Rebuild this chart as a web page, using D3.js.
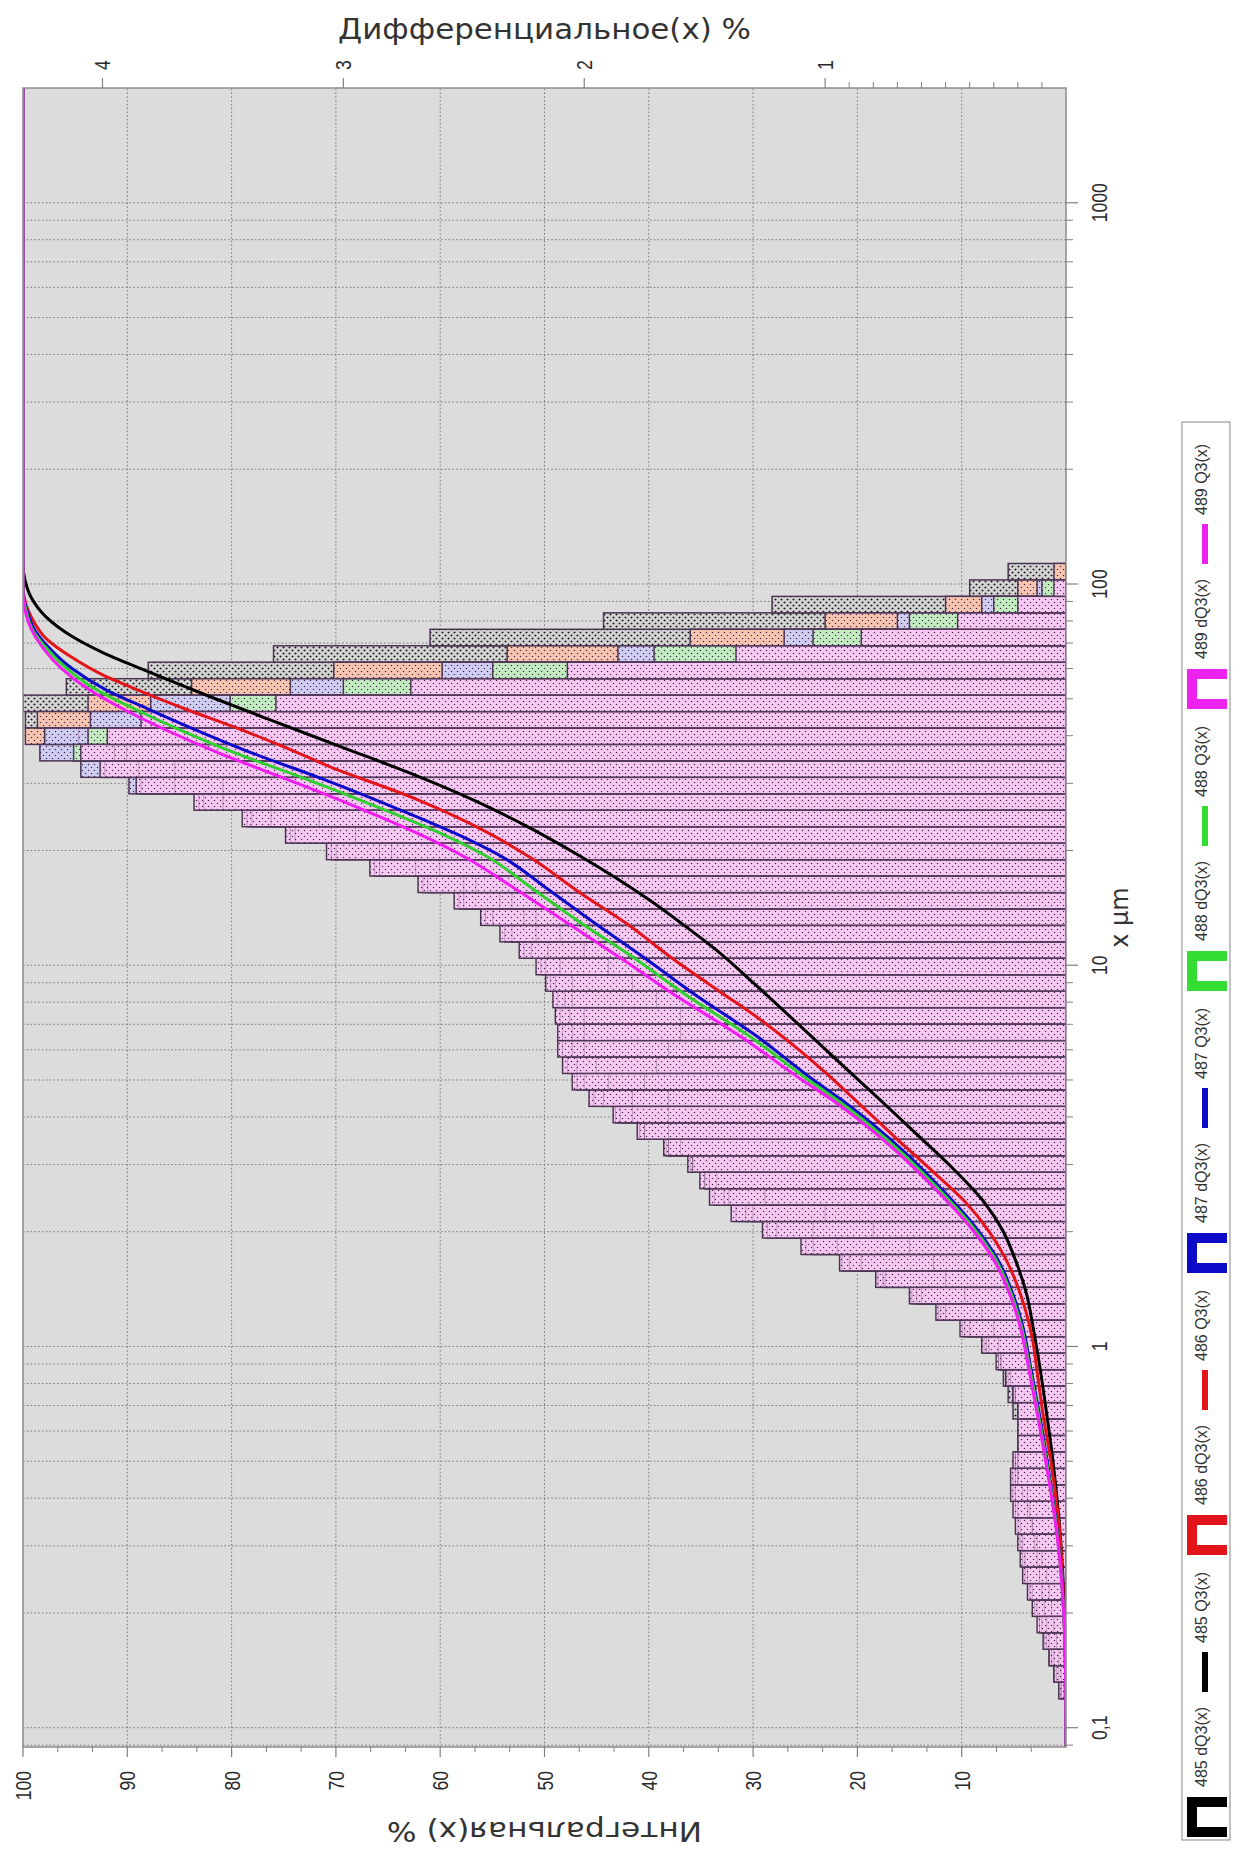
<!DOCTYPE html>
<html>
<head>
<meta charset="utf-8">
<script src="https://cdn.jsdelivr.net/npm/d3@7/dist/d3.min.js"></script>
<style>
html,body{margin:0;padding:0;background:#ffffff;}
svg{display:block;}
</style>
</head>
<body>
<svg id="chart" width="1243" height="1849"></svg>
<script>
// ===================== DATA =====================
// particle size class boundaries (µm)
const binEdges = [0.0885,0.0977,0.1079,0.1192,0.1317,0.1455,0.1606,0.1774,0.1959,0.2163,
  0.2389,0.2639,0.2914,0.3219,0.3555,0.3926,0.4336,0.4790,0.5290,0.5843,
  0.6453,0.7127,0.7872,0.8694,0.9603,1.061,1.172,1.294,1.429,1.578,
  1.743,1.925,2.127,2.349,2.594,2.865,3.165,3.495,3.861,4.264,
  4.709,5.202,5.745,6.345,7.008,7.740,8.548,9.441,10.43,11.52,
  12.72,14.05,15.51,17.14,18.92,20.90,23.09,25.50,28.16,31.10,
  34.36,37.94,41.91,46.28,51.11,56.45,62.35,68.87,76.06,84.01,
  92.79,102.5,113.2];

const seriesNames = ["485","486","487","488","489"];

// differential dQ3 (%) per class
const dQ485 = [0,0,0,0.01,0.02,0.03,0.04,0.05,0.06,0.07,
  0.08,0.10,0.12,0.14,0.15,0.16,0.20,0.20,0.20,0.20,
  0.22,0.24,0.26,0.27,0.28,0.30,0.35,0.42,0.50,0.55,
  0.65,0.80,1.00,1.25,1.45,1.55,1.60,1.65,1.65,1.65,
  1.75,1.70,1.65,1.60,1.60,1.70,1.80,1.90,2.00,2.10,
  2.20,2.30,2.50,2.70,2.80,2.95,3.10,3.30,3.50,3.70,
  3.90,4.10,4.32,4.33,4.15,3.81,3.29,2.64,1.92,1.22,
  0.40,0.24];
const dQ486 = [0,0,0,0.02,0.03,0.05,0.07,0.08,0.09,0.10,
  0.11,0.12,0.13,0.14,0.16,0.18,0.20,0.20,0.20,0.20,
  0.20,0.22,0.25,0.28,0.33,0.40,0.50,0.60,0.75,0.85,
  0.95,1.05,1.30,1.40,1.50,1.55,1.65,1.75,1.80,1.80,
  1.90,1.95,2.00,2.00,2.00,2.05,2.05,2.10,2.15,2.20,
  2.25,2.35,2.45,2.60,2.85,3.05,3.30,3.50,3.70,3.85,
  3.95,4.32,4.27,4.06,3.63,3.04,2.32,1.56,1.00,0.50,
  0.20,0.05];
const dQ487 = [0,0,0,0.02,0.04,0.06,0.08,0.10,0.12,0.14,
  0.16,0.17,0.18,0.19,0.20,0.21,0.21,0.21,0.20,0.20,
  0.20,0.21,0.23,0.27,0.32,0.42,0.52,0.62,0.76,0.90,
  1.05,1.20,1.33,1.42,1.48,1.55,1.65,1.75,1.85,1.92,
  2.00,2.03,2.05,2.05,2.06,2.08,2.12,2.16,2.22,2.30,
  2.38,2.50,2.65,2.85,3.03,3.20,3.38,3.58,3.89,4.09,
  4.26,4.24,4.05,3.80,3.22,2.59,1.86,1.17,0.70,0.35,
  0.12,0];
const dQ488 = [0,0,0,0.03,0.05,0.07,0.09,0.11,0.13,0.15,
  0.17,0.18,0.19,0.20,0.21,0.22,0.22,0.21,0.20,0.20,
  0.20,0.21,0.24,0.28,0.34,0.43,0.53,0.64,0.78,0.93,
  1.08,1.24,1.37,1.46,1.50,1.56,1.66,1.77,1.87,1.96,
  2.03,2.07,2.09,2.09,2.10,2.11,2.14,2.18,2.25,2.33,
  2.41,2.52,2.67,2.87,3.05,3.22,3.40,3.60,3.84,3.99,
  4.12,4.06,3.80,3.47,3.00,2.38,1.71,1.05,0.65,0.30,
  0.10,0];
const dQ489 = [0,0,0,0.03,0.05,0.07,0.095,0.12,0.14,0.16,
  0.18,0.19,0.20,0.21,0.22,0.23,0.23,0.22,0.20,0.20,
  0.20,0.22,0.25,0.29,0.35,0.44,0.54,0.65,0.79,0.94,
  1.10,1.26,1.39,1.48,1.52,1.57,1.67,1.78,1.88,1.98,
  2.05,2.09,2.11,2.11,2.12,2.13,2.16,2.20,2.27,2.35,
  2.43,2.54,2.69,2.89,3.07,3.24,3.42,3.62,3.86,4.01,
  4.09,3.98,3.84,3.28,2.72,2.07,1.37,0.85,0.45,0.20,
  0.05,0];

// cumulative Q3 (%) : [size µm, value]
const q485 = [[0.089,0],[0.13,0.02],[0.2,0.15],[0.32,0.55],[0.5,1.25],[0.65,1.8],[0.88,2.5],[1.1,3.1],[1.38,3.8],[1.7,4.9],[2.0,6.0],[2.4,7.9],[2.96,11.0],[3.6,14.3],[4.43,17.8],[5.3,20.9],[7.06,25.8],[9.0,30.0],[11.0,33.6],[12.9,36.9],[14.8,39.9],[19.2,46.4],[23,51.5],[27.2,56.9],[31.2,62.0],[37.4,69.5],[44,76.3],[50.3,81.8],[59.5,88.4],[66,92.3],[72.6,95.2],[82,97.8],[92,99.2],[102,99.8],[113,100],[2000,100]];
const q486 = [[0.089,0],[0.13,0.03],[0.2,0.2],[0.32,0.58],[0.5,1.45],[0.65,2.15],[0.85,2.75],[1.04,3.2],[1.38,4.4],[1.7,5.8],[1.99,7.3],[2.4,9.7],[2.85,12.6],[3.5,16.2],[4.43,20.2],[5.3,23.3],[6.0,25.6],[7.2,29.3],[8.46,33.0],[10.4,37.7],[12.9,42.2],[15.5,46.6],[19.2,51.4],[23,56.4],[27.2,62.2],[33.2,70.6],[37.9,75.5],[42.3,79.9],[46.3,83.8],[51.9,88.4],[58,92.5],[64.4,95.4],[72,97.8],[80,99.0],[90,99.8],[100,100],[2000,100]];
const q487 = [[0.089,0],[0.13,0.03],[0.2,0.21],[0.32,0.8],[0.5,1.8],[0.7,2.7],[0.9,3.45],[1.1,4.05],[1.35,5.0],[1.7,6.6],[2.06,8.7],[2.6,12.0],[3.22,15.4],[3.8,18.4],[4.43,21.5],[5.0,24.2],[6.5,29.6],[8.46,35.8],[10.4,40.3],[12.9,45.2],[16,49.9],[19.2,54.0],[22.2,58.6],[26,64.5],[31.2,71.8],[36,78.0],[41.4,83.4],[47,88.0],[52.7,92.0],[60,95.3],[68,97.5],[76,98.9],[85,99.6],[95,100],[2000,100]];
const q488 = [[0.089,0],[0.13,0.03],[0.2,0.22],[0.32,0.83],[0.5,1.88],[0.7,2.8],[0.9,3.55],[1.1,4.18],[1.35,5.15],[1.7,6.8],[2.06,8.95],[2.6,12.3],[3.22,15.75],[3.8,18.8],[4.43,21.95],[5.0,24.7],[6.5,30.3],[8.46,36.7],[10.4,41.3],[12.9,46.5],[16,51.3],[19.2,55.4],[22.2,60.0],[26,66.0],[31.2,73.4],[36,79.6],[41.4,84.9],[47,89.3],[52.7,92.9],[60,95.8],[68,97.8],[76,99.1],[85,99.7],[95,100],[2000,100]];
const q489 = [[0.089,0],[0.13,0.03],[0.2,0.22],[0.32,0.86],[0.5,1.95],[0.7,2.9],[0.9,3.65],[1.1,4.3],[1.35,5.3],[1.7,7.0],[2.06,9.2],[2.6,12.6],[3.22,16.1],[3.8,19.2],[4.43,22.4],[5.0,25.3],[6.5,31.2],[8.46,37.8],[10.4,42.6],[12.9,47.8],[16,53.0],[19.2,57.6],[22.2,62.2],[26,68.0],[31.2,75.3],[36,81.2],[41.4,86.3],[47,90.4],[52.7,93.6],[60,96.3],[68,98.1],[76,99.2],[85,99.8],[95,100],[2000,100]];

// axis ticks & labels
const xTickValues = [0.1, 1, 10, 100, 1000];
const xTickLabels = ["0,1", "1", "10", "100", "1000"];
const qTickValues = [10,20,30,40,50,60,70,80,90,100];
const dTickValues = [1,2,3,4];
const dMinorValues = [0.1,0.2,0.3,0.4,0.5,0.6,0.7,0.8,0.9];

const titleQ = "Интегральная(x) %";
const titleD = "Дифференциальное(x) %";
const titleX = "x µm";

// ===================== STYLE =====================
const lineColors = {"485":"#000000","486":"#e3151b","487":"#0b0bc8","488":"#2fcf2f","489":"#f01ef0"};
const barFills   = {"485":"#d4d4d4","486":"#f6c4b0","487":"#cfcdf2","488":"#c2ecc0","489":"#f6c8f3"};
const legendColors = {"485":"#000000","486":"#e3151b","487":"#0b0bc8","488":"#33dd33","489":"#ee22ee"};

// ===================== CHART =====================
const W0 = 1849;            // unrotated width (= page height)
const PL = 102, PR = 1761, PT = 23, PB = 1066;
const svg = d3.select("#chart");
const defs = svg.append("defs");
const root = svg.append("g").attr("transform", `translate(0,${W0}) rotate(-90)`);

const x  = d3.scaleLog().domain([0.089, 2000]).range([PL, PR]);
const yQ = d3.scaleLinear().domain([0, 100]).range([PB, PT]);
const yD = d3.scaleLinear().domain([0, 4.33]).range([PB, PT]);

defs.append("clipPath").attr("id","plotClip")
  .append("rect").attr("x",PL).attr("y",PT).attr("width",PR-PL).attr("height",PB-PT);

seriesNames.forEach(n => {
  const isBlack = n === "485";
  const p = defs.append("pattern").attr("id","pat"+n)
    .attr("patternUnits","userSpaceOnUse").attr("width",6).attr("height",6);
  p.append("rect").attr("width",6).attr("height",6).attr("fill",barFills[n]);
  const r = isBlack ? 0.9 : 0.65;
  const c = isBlack ? "#111" : "#3a2440";
  p.append("circle").attr("cx",1.5).attr("cy",1.5).attr("r",r).attr("fill",c);
  p.append("circle").attr("cx",4.5).attr("cy",4.5).attr("r",r).attr("fill",c);
});

// plot background
root.append("rect").attr("x",PL).attr("y",PT).attr("width",PR-PL).attr("height",PB-PT).attr("fill","#dcdcdc");

// grid
const grid = root.append("g").attr("stroke","#7a7a7a").attr("stroke-width",1).attr("stroke-dasharray","1.6,2.2");
const gridSizes = x.ticks().filter(v => v <= 1000);
grid.selectAll("line.gx").data(gridSizes).join("line")
  .attr("x1", d => x(d)).attr("x2", d => x(d)).attr("y1", PT).attr("y2", PB);
grid.selectAll("line.gy").data(qTickValues.filter(v => v < 100)).join("line")
  .attr("x1", PL).attr("x2", PR).attr("y1", d => yQ(d)).attr("y2", d => yQ(d));

const plot = root.append("g").attr("clip-path","url(#plotClip)");

const dqBySeries = {"485":dQ485,"486":dQ486,"487":dQ487,"488":dQ488,"489":dQ489};
const qBySeries  = {"485":q485,"486":q486,"487":q487,"488":q488,"489":q489};

function binData(n){
  return dqBySeries[n].map((v,i) => ({x0: binEdges[i], x1: binEdges[i+1], v})).filter(d => d.v > 0);
}

// histogram bars (drawn back to front)
seriesNames.forEach(n => {
  plot.append("g").selectAll("rect").data(binData(n)).join("rect")
    .attr("x", d => x(d.x0)).attr("width", d => x(d.x1) - x(d.x0))
    .attr("y", d => yD(d.v)).attr("height", d => PB - yD(d.v))
    .attr("fill", `url(#pat${n})`)
    .attr("stroke", "#45304c").attr("stroke-width", 1.4);
});
// faint outlines of hidden bars
seriesNames.slice(0,4).forEach(n => {
  plot.append("g").selectAll("rect").data(binData(n)).join("rect")
    .attr("x", d => x(d.x0)).attr("width", d => x(d.x1) - x(d.x0))
    .attr("y", d => yD(d.v)).attr("height", d => PB - yD(d.v))
    .attr("fill", "none").attr("stroke", "#5a4060").attr("stroke-opacity", 0.35).attr("stroke-width", 1);
});

// cumulative curves
const line = d3.line().x(d => x(d[0])).y(d => yQ(d[1])).curve(d3.curveMonotoneX);
seriesNames.forEach(n => {
  plot.append("path").datum(qBySeries[n]).attr("d", line)
    .attr("fill","none").attr("stroke", lineColors[n]).attr("stroke-width", 3)
    .attr("stroke-linejoin","round");
});

// frame
root.append("rect").attr("x",PL).attr("y",PT).attr("width",PR-PL).attr("height",PB-PT)
  .attr("fill","none").attr("stroke","#8c8c8c").attr("stroke-width",1.5);

// ---------- axes ----------
const tickCol = "#808080", labCol = "#2a2a2a";
const labelFont = "'Liberation Sans', Arial, sans-serif";
const axes = root.append("g");

// x axis (bottom of unrotated chart)
const xMinor = x.ticks().filter(v => xTickValues.indexOf(v) < 0 && v < 2000);
axes.selectAll("line.xmin").data(xMinor).join("line")
  .attr("x1", d => x(d)).attr("x2", d => x(d)).attr("y1", PB).attr("y2", PB + 7)
  .attr("stroke", tickCol).attr("stroke-width", 1);
axes.selectAll("line.xmaj").data(xTickValues).join("line")
  .attr("x1", d => x(d)).attr("x2", d => x(d)).attr("y1", PB).attr("y2", PB + 12)
  .attr("stroke", tickCol).attr("stroke-width", 1.2);
axes.selectAll("g.xlab").data(xTickValues).join("g")
  .attr("transform", d => `translate(${x(d)},${PB + 41}) scale(0.8,1)`)
  .append("text").attr("text-anchor","middle")
  .attr("font-family", labelFont).attr("font-size", 22).attr("fill", labCol)
  .text((d,i) => xTickLabels[i]);

// left axis (integral)
const qMinor = d3.range(0, 100, 10).flatMap(v => [v + 10/3, v + 20/3]);
axes.selectAll("line.qmin").data(qMinor).join("line")
  .attr("x1", PL - 5).attr("x2", PL).attr("y1", d => yQ(d)).attr("y2", d => yQ(d))
  .attr("stroke", tickCol);
axes.selectAll("line.qmaj").data(qTickValues).join("line")
  .attr("x1", PL - 10).attr("x2", PL).attr("y1", d => yQ(d)).attr("y2", d => yQ(d))
  .attr("stroke", tickCol).attr("stroke-width", 1.2);
axes.selectAll("g.qlab").data(qTickValues).join("g")
  .attr("transform", d => `translate(${PL - 24},${yQ(d) + 8}) scale(0.8,1)`)
  .append("text").attr("text-anchor","end")
  .attr("font-family", labelFont).attr("font-size", 22).attr("fill", labCol)
  .text(d => d);

// right axis (differential)
axes.selectAll("line.dmin").data(dMinorValues).join("line")
  .attr("x1", PR).attr("x2", PR + 6).attr("y1", d => yD(d)).attr("y2", d => yD(d))
  .attr("stroke", tickCol);
axes.selectAll("line.dmaj").data(dTickValues).join("line")
  .attr("x1", PR).attr("x2", PR + 10).attr("y1", d => yD(d)).attr("y2", d => yD(d))
  .attr("stroke", tickCol).attr("stroke-width", 1.2);
axes.selectAll("g.dlab").data(dTickValues).join("g")
  .attr("transform", d => `translate(${PR + 18},${yD(d) + 8}) scale(0.8,1)`)
  .append("text").attr("text-anchor","start")
  .attr("font-family", labelFont).attr("font-size", 22).attr("fill", labCol)
  .text(d => d);

// titles
const titleFont = "'DejaVu Sans', 'Liberation Sans', sans-serif";
root.append("text").attr("transform", `translate(${PL - 75},${(PT+PB)/2}) rotate(-90)`)
  .attr("text-anchor","middle").attr("font-family", titleFont).attr("font-size", 27)
  .attr("fill","#333").attr("textLength", 315).attr("lengthAdjust","spacingAndGlyphs")
  .text(titleQ);
root.append("text").attr("transform", `translate(${PR + 49},${(PT+PB)/2}) rotate(90)`)
  .attr("text-anchor","middle").attr("font-family", titleFont).attr("font-size", 28)
  .attr("fill","#333").attr("textLength", 413).attr("lengthAdjust","spacingAndGlyphs")
  .text(titleD);
root.append("text").attr("x", (PL+PR)/2).attr("y", PB + 62)
  .attr("text-anchor","middle").attr("font-family", titleFont).attr("font-size", 24)
  .attr("fill","#333").text(titleX);

// ---------- legend ----------
const lg = root.append("g");
lg.append("rect").attr("x", 9).attr("y", 1182).attr("width", 1418).attr("height", 48)
  .attr("fill","#ffffff").attr("stroke","#9a9a9a").attr("stroke-width",1.2);
seriesNames.forEach((n,i) => {
  const ox = 12 + 282*i;
  lg.append("path").attr("d", `M${ox+5},1227 V1192 H${ox+35} V1227`)
    .attr("fill","none").attr("stroke", legendColors[n]).attr("stroke-width", 10)
    .attr("stroke-linejoin","miter");
  lg.append("text").attr("x", ox + 50).attr("y", 1207)
    .attr("font-family", labelFont).attr("font-size", 16).attr("fill","#333")
    .text(`${n} dQ3(x)`);
  lg.append("line").attr("x1", ox + 145).attr("x2", ox + 185).attr("y1", 1205).attr("y2", 1205)
    .attr("stroke", legendColors[n]).attr("stroke-width", 6);
  lg.append("text").attr("x", ox + 194).attr("y", 1207)
    .attr("font-family", labelFont).attr("font-size", 16).attr("fill","#333")
    .text(`${n} Q3(x)`);
});
</script>
</body>
</html>
